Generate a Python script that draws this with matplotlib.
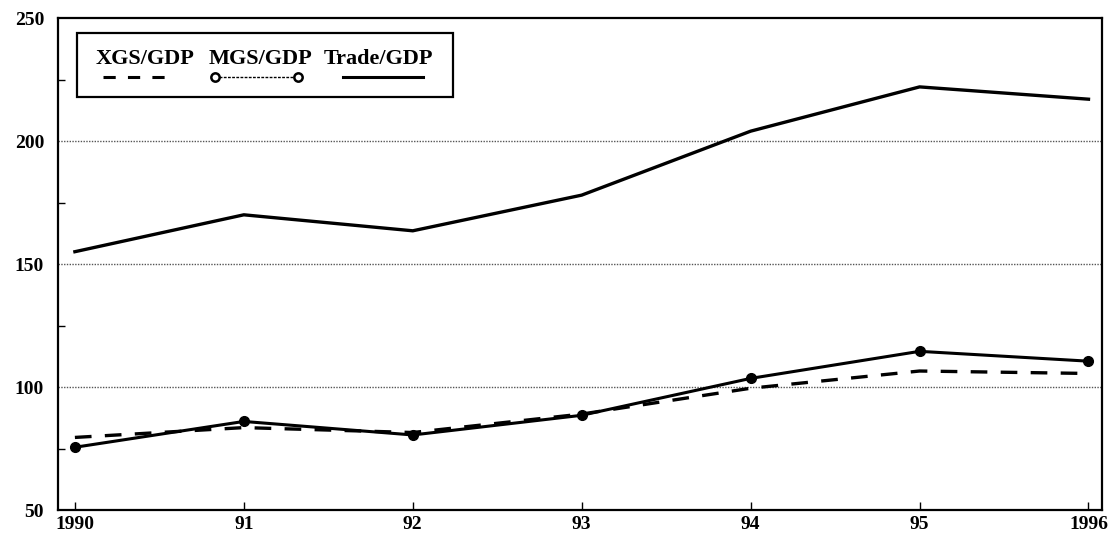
import matplotlib.pyplot as plt
from matplotlib.patches import Rectangle
from matplotlib.lines import Line2D

years = [1990, 1991, 1992, 1993, 1994, 1995, 1996]
year_labels = ["1990", "91", "92", "93", "94", "95", "1996"]
xgs_gdp = [79.5, 83.5, 81.5, 89, 99.5, 106.5, 105.5]
mgs_gdp = [75.5, 86, 80.5, 88.5, 103.5, 114.5, 110.5]
trade_gdp = [155, 170, 163.5, 178, 204, 222, 217]

plt.rcParams["font.family"] = ["Liberation Serif", "DejaVu Serif"]
plt.rcParams["font.weight"] = "bold"

fig = plt.figure(figsize=(11.09, 5.41), dpi=100)
ax = fig.add_axes([0.0523, 0.0573, 0.9414, 0.9094])

ax.plot(years, trade_gdp, color="black", lw=2.4)
ax.plot(years, xgs_gdp, color="black", lw=2.4, dashes=(5, 4))
ax.plot(years, mgs_gdp, color="black", lw=2.2, marker="o", ms=7)

ax.set_xlim(1989.9, 1996.08)
ax.set_ylim(50, 250)
ax.set_xticks(years)
ax.set_xticklabels(year_labels)
ax.set_yticks([50, 100, 150, 200, 250])
ax.set_yticks([75, 125, 175, 225], minor=True)
ax.tick_params(direction="in", length=6, width=1, labelsize=14)
ax.tick_params(which="minor", direction="in", length=5, width=1)
ax.tick_params(axis="y", which="major", length=0, pad=10)
ax.tick_params(axis="x", pad=4)
for lab in ax.get_xticklabels() + ax.get_yticklabels():
    lab.set_fontweight("bold")

for v in [100, 150, 200]:
    ax.axhline(v, color="#555555", lw=1, ls=(0, (1, 1)), zorder=0)

for s in ax.spines.values():
    s.set_linewidth(1.6)


def fx(px):
    return (px - 58) / 1044


def fy(py):
    return (510 - py) / 492


ax.add_patch(Rectangle((fx(77), fy(97)), fx(453) - fx(77), fy(33) - fy(97),
                       transform=ax.transAxes, fill=False, lw=1.6, ec="black"))
tr = ax.transAxes
for cx, lab in [(145, "XGS/GDP"), (260, "MGS/GDP"), (378, "Trade/GDP")]:
    ax.text(fx(cx), fy(59), lab, transform=tr, ha="center", va="center",
            fontsize=16, fontweight="bold")
ax.add_line(Line2D([fx(103), fx(173)], [fy(77), fy(77)], transform=tr,
                   color="black", lw=2.2, dashes=(4, 4)))
ax.add_line(Line2D([fx(215), fx(298)], [fy(77), fy(77)], transform=tr,
                   color="black", lw=1, ls=(0, (2, 1)), marker="o", ms=6,
                   mfc="white", mew=1.8))
ax.add_line(Line2D([fx(343), fx(423)], [fy(77), fy(77)], transform=tr,
                   color="black", lw=2.2))

fig.savefig("out.png", dpi=100)
